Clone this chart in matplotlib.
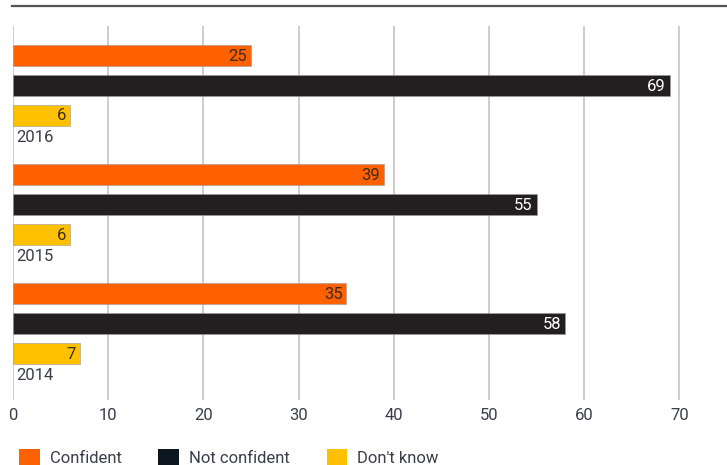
import matplotlib.pyplot as plt
from matplotlib.patches import Patch

years = ['2016', '2015', '2014']
confident = [25, 39, 35]
not_confident = [69, 55, 58]
dont_know = [6, 6, 7]
series = ['Confident', 'Not confident', "Don't know"]
colors = ['#ff6000', '#231f20', '#ffc000']
label_colors = ['#3a2a20', '#ffffff', '#3a3020']
legend_colors = ['#ff6000', '#0b1620', '#ffc000']
xticks = [0, 10, 20, 30, 40, 50, 60, 70]

plt.rcParams['font.family'] = ['Roboto', 'DejaVu Sans']
fig = plt.figure(figsize=(7.27, 4.65), dpi=100)
ax = fig.add_axes([13 / 727, 1 - 400 / 465, 714 / 727, 374 / 465])

values = [confident, not_confident, dont_know]
for gi, year in enumerate(years):
    base = gi * 4
    for si in range(3):
        v = values[si][gi]
        y = base + si
        ax.barh(y, v, height=0.7, color=colors[si], edgecolor='#9a9a9a',
                linewidth=0.4, zorder=3)
        ax.text(v - 0.4, y + 0.03, str(v), ha='right', va='center',
                fontsize=12, color=label_colors[si], zorder=4)
    ax.text(0.3, base + 2.75, year, ha='left', va='center', fontsize=12,
            color='#3c3c4a', zorder=4)

ax.set_xlim(0, 75)
ax.set_ylim(11.56, -0.99)
ax.set_xticks(xticks)
ax.set_xticklabels([str(t) for t in xticks], fontsize=12, color='#3c3c4a')
ax.set_yticks([])
ax.tick_params(axis='x', length=0, pad=6)
for t in xticks:
    ax.axvline(t, color='#c8c8c8', linewidth=1.3, zorder=1)
for s in ax.spines.values():
    s.set_visible(False)

fig.add_artist(plt.Line2D([12 / 727, 1], [1 - 6 / 465, 1 - 6 / 465],
                          color='#555555', linewidth=1.6))

handles = [Patch(facecolor=c, edgecolor='none') for c in legend_colors]
leg = fig.legend(handles, series, loc='lower left', bbox_to_anchor=(4 / 727, -0.035),
                 ncol=3, frameon=False, fontsize=12, handlelength=1.25,
                 handleheight=1.25, handletextpad=0.6, columnspacing=2.2,
                 labelcolor='#3c3c4a')

fig.savefig('out.png', dpi=100)
